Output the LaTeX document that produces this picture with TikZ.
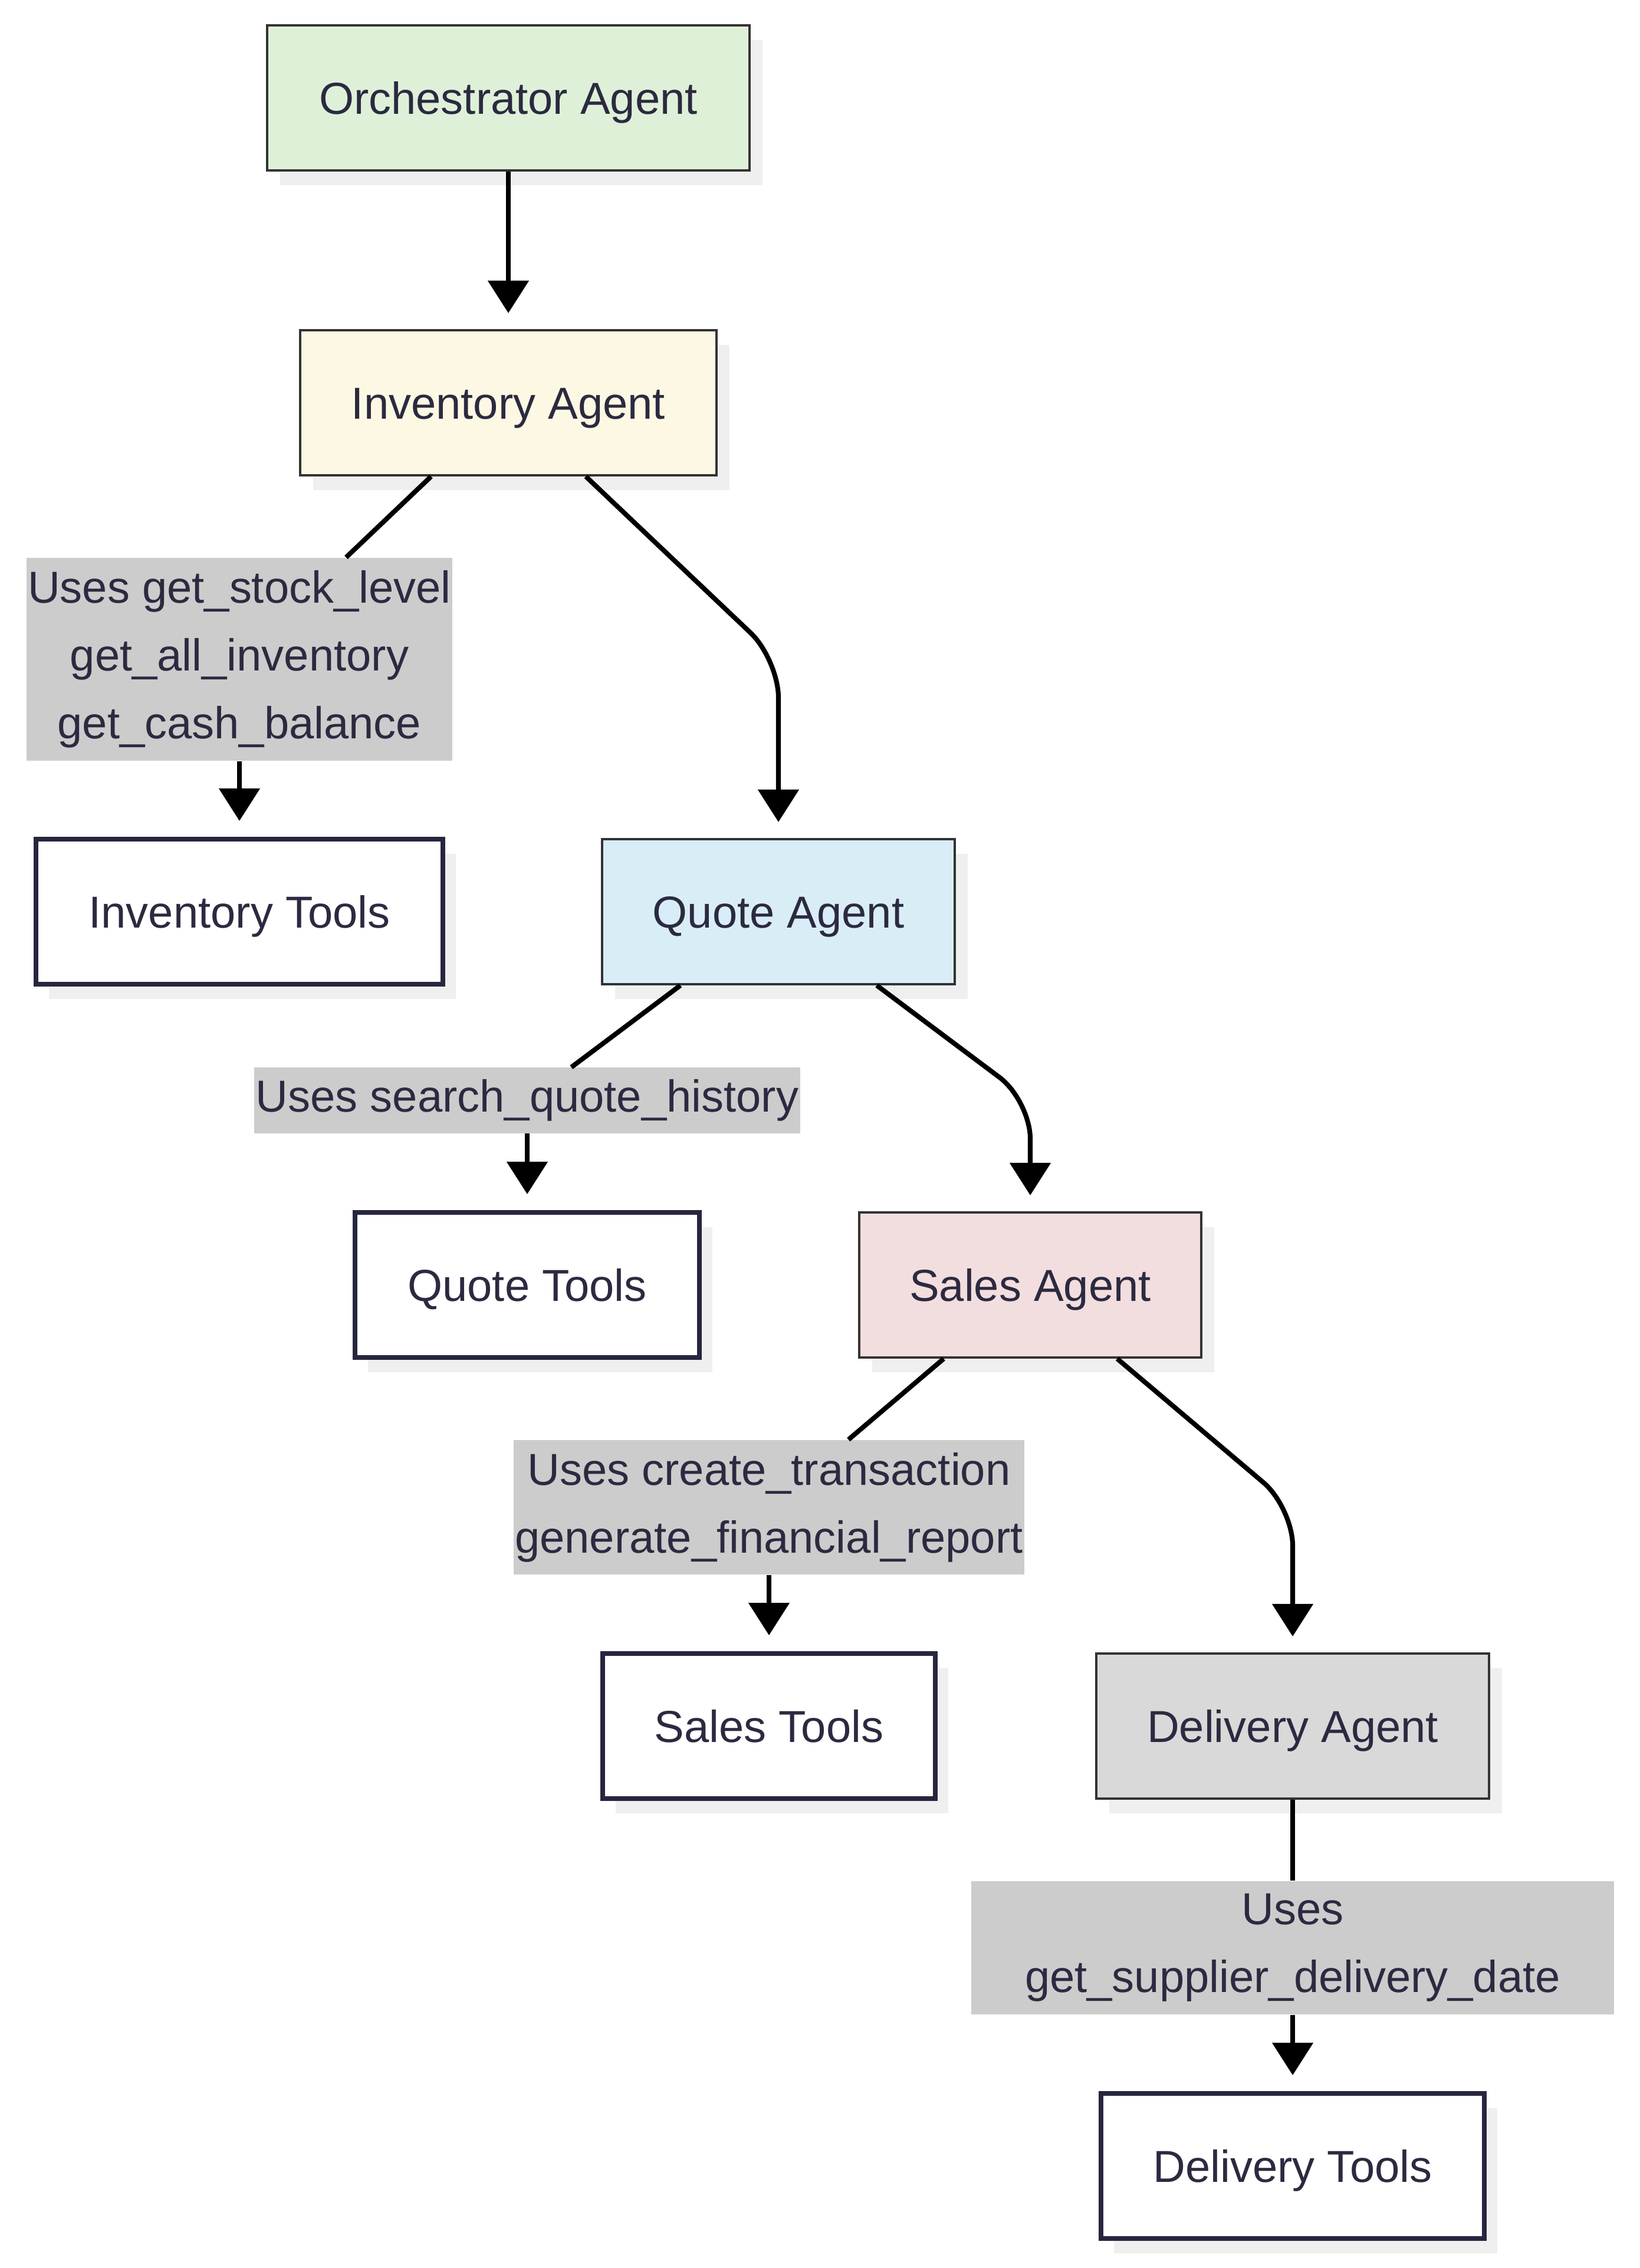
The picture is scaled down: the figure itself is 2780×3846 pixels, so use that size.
\documentclass[tikz,border=0pt]{standalone}
\usepackage{fontspec}
\setmainfont{Liberation Sans}
\usetikzlibrary{arrows.meta,shadows}

\definecolor{ink}{HTML}{2B2A40}
\definecolor{boxline}{HTML}{333333}
\definecolor{toolline}{HTML}{26263F}
\definecolor{shade}{HTML}{EFEFEF}
\definecolor{lblgray}{HTML}{CCCCCC}
\definecolor{orchfill}{HTML}{DFF0D8}
\definecolor{invfill}{HTML}{FCF8E3}
\definecolor{quotefill}{HTML}{D9EDF7}
\definecolor{salesfill}{HTML}{F2DEDE}
\definecolor{delfill}{HTML}{D9D9D9}

\begin{document}
\begin{tikzpicture}[x=0.01cm,y=-0.01cm,
  agent/.style={draw=boxline, line width=1.1pt, minimum height=2.46cm, inner sep=0pt,
    text=ink, font=\fontsize{21.6}{32.7}\selectfont, text height=0.55cm, text depth=0pt,
    drop shadow={shadow xshift=0.22cm, shadow yshift=-0.25cm, fill=shade, opacity=1}},
  tools/.style={agent, draw=toolline, line width=2.2pt, fill=white},
  uses/.style={fill=lblgray, inner sep=0pt, text=ink, align=center,
    font=\fontsize{21.6}{32.7}\selectfont},
  link/.style={line width=2.3pt},
  flow/.style={link, -{Triangle[length=0.55cm,width=0.68cm]}, shorten >=0.27cm}]
\useasboundingbox (0,0) rectangle (2780,3846);

% Agents
\node[agent, fill=orchfill, minimum width=8.17cm] (orch) at (862,166) {Orchestrator Agent};
\node[agent, fill=invfill, minimum width=7.05cm] (inv) at (862,683) {Inventory Agent};
\node[agent, fill=quotefill, minimum width=5.98cm] (quote) at (1320,1546) {Quote Agent};
\node[agent, fill=salesfill, minimum width=5.79cm] (sales) at (1747,2179) {Sales Agent};
\node[agent, fill=delfill, minimum width=6.65cm] (delivery) at (2192,2927) {Delivery Agent};

% Tools
\node[tools, minimum width=6.90cm] (invtools) at (406,1546) {Inventory Tools};
\node[tools, minimum width=5.84cm] (quotetools) at (894,2179) {Quote Tools};
\node[tools, minimum width=5.64cm] (salestools) at (1304,2927) {Sales Tools};
\node[tools, minimum width=6.50cm] (deliverytools) at (2192,3673) {Delivery Tools};

% Edge labels
\node[uses, minimum width=7.22cm, minimum height=3.44cm] (invuse) at (406,1118)
  {Uses get\_stock\_level\\get\_all\_inventory\\get\_cash\_balance};
\node[uses, minimum width=9.25cm, minimum height=1.11cm] (quoteuse) at (894,1866)
  {Uses search\_quote\_history};
\node[uses, minimum width=8.66cm, minimum height=2.28cm] (salesuse) at (1304,2556)
  {Uses create\_transaction\\generate\_financial\_report};
\node[uses, minimum width=10.90cm, minimum height=2.26cm] (deliveryuse) at (2192,3303)
  {Uses\\get\_supplier\_delivery\_date};

% Handoffs
\draw[flow] (orch) -- (inv);
\draw[flow, rounded corners=0.65cm] (inv) -- (quote |- invuse) -- (quote);
\draw[flow, rounded corners=0.65cm] (quote) -- (sales |- quoteuse) -- (sales);
\draw[flow, rounded corners=0.65cm] (sales) -- (delivery |- salesuse) -- (delivery);

% Tool use
\draw[link] (inv) -- (invuse);
\draw[flow] (invuse) -- (invtools);
\draw[link] (quote) -- (quoteuse);
\draw[flow] (quoteuse) -- (quotetools);
\draw[link] (sales) -- (salesuse);
\draw[flow] (salesuse) -- (salestools);
\draw[link] (delivery) -- (deliveryuse);
\draw[flow] (deliveryuse) -- (deliverytools);
\end{tikzpicture}
\end{document}
